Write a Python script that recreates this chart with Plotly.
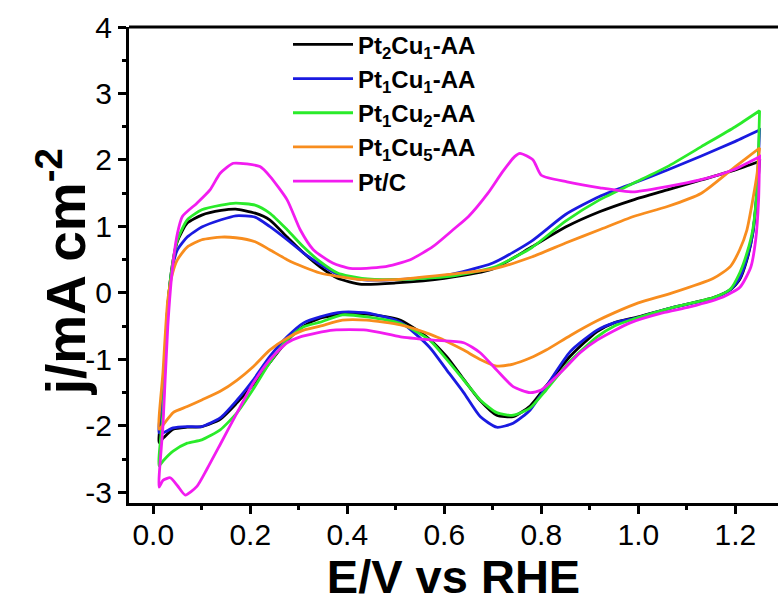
import plotly.graph_objects as go

# ---------------- data ----------------
series_names = ["Pt<sub>2</sub>Cu<sub>1</sub>-AA", "Pt<sub>1</sub>Cu<sub>1</sub>-AA",
                "Pt<sub>1</sub>Cu<sub>2</sub>-AA", "Pt<sub>1</sub>Cu<sub>5</sub>-AA", "Pt/C"]
series_colors = ["#000000", "#1a1ae0", "#2aeb2a", "#f88d1e", "#f21cf0"]

# common potential grid (V vs RHE) for the alloy samples
E_fwd = [0.012, 0.02, 0.03, 0.04, 0.05, 0.07, 0.10, 0.14, 0.17, 0.21, 0.24, 0.276, 0.31,
         0.344, 0.38, 0.43, 0.5, 0.6, 0.7, 0.78, 0.85, 0.92, 0.99, 1.06, 1.13, 1.2, 1.25]
E_rev = [1.25, 1.245, 1.236, 1.224, 1.209, 1.19, 1.155, 1.07, 1.0, 0.95, 0.915, 0.86, 0.81,
         0.777, 0.742, 0.708, 0.674, 0.64, 0.605, 0.57, 0.51, 0.44, 0.39, 0.344, 0.31, 0.276,
         0.24, 0.206, 0.173, 0.138, 0.10, 0.07, 0.041, 0.021, 0.012]

# Pt2Cu1-AA
j_pt2cu1_fwd = [-2.25, -1.6, -0.2, 0.45, 0.78, 1.05, 1.17, 1.24, 1.26, 1.2, 1.10, 0.84, 0.6,
                0.39, 0.22, 0.13, 0.15, 0.22, 0.36, 0.69, 0.99, 1.22, 1.40, 1.55, 1.70, 1.85, 1.98]
j_pt2cu1_rev = [1.98, 1.5, 0.9, 0.5, 0.2, 0.05, -0.07, -0.22, -0.36, -0.45, -0.58, -0.95, -1.4,
                -1.7, -1.86, -1.84, -1.62, -1.3, -0.96, -0.7, -0.41, -0.32, -0.32, -0.38, -0.5,
                -0.72, -1.05, -1.38, -1.65, -1.9, -2.01, -2.02, -2.05, -2.18, -2.25]

# Pt1Cu1-AA
j_pt1cu1_fwd = [-2.1, -1.5, -0.2, 0.4, 0.65, 0.84, 0.99, 1.1, 1.16, 1.14, 1.0, 0.8, 0.6,
                0.43, 0.28, 0.2, 0.2, 0.26, 0.45, 0.78, 1.18, 1.45, 1.65, 1.85, 2.06, 2.28, 2.45]
j_pt1cu1_rev = [2.45, 1.6, 0.9, 0.52, 0.22, 0.05, -0.08, -0.22, -0.37, -0.45, -0.56, -0.88, -1.41,
                -1.76, -1.96, -2.02, -1.86, -1.5, -1.16, -0.82, -0.44, -0.3, -0.29, -0.36, -0.45,
                -0.66, -0.96, -1.31, -1.61, -1.88, -2.01, -2.01, -2.03, -2.1, -2.1]

# Pt1Cu2-AA
j_pt1cu2_fwd = [-2.6, -1.8, -0.2, 0.45, 0.8, 1.1, 1.25, 1.32, 1.35, 1.32, 1.2, 0.95, 0.69,
                0.47, 0.3, 0.22, 0.2, 0.24, 0.38, 0.68, 1.08, 1.4, 1.65, 1.9, 2.2, 2.5, 2.74]
j_pt1cu2_rev = [2.74, 1.6, 0.95, 0.6, 0.3, 0.06, -0.07, -0.22, -0.37, -0.5, -0.66, -1.02, -1.46,
                -1.73, -1.84, -1.8, -1.61, -1.31, -1.0, -0.71, -0.46, -0.36, -0.33, -0.44, -0.51,
                -0.71, -1.05, -1.45, -1.8, -2.06, -2.21, -2.26, -2.38, -2.52, -2.6]

# Pt1Cu5-AA
j_pt1cu5_fwd = [-2.05, -1.2, -0.1, 0.3, 0.5, 0.69, 0.8, 0.84, 0.83, 0.77, 0.65, 0.5, 0.39,
                0.3, 0.25, 0.2, 0.2, 0.27, 0.36, 0.54, 0.75, 0.95, 1.15, 1.3, 1.5, 1.9, 2.18]
j_pt1cu5_rev = [2.18, 1.8, 1.4, 0.95, 0.65, 0.4, 0.22, 0.0, -0.15, -0.3, -0.42, -0.64, -0.86,
                -0.98, -1.07, -1.1, -1.0, -0.86, -0.73, -0.62, -0.48, -0.41, -0.41, -0.5, -0.56,
                -0.68, -0.86, -1.11, -1.31, -1.48, -1.61, -1.71, -1.8, -1.98, -2.05]

# Pt/C (own potential grid)
E_ptc_fwd = [0.012, 0.02, 0.03, 0.04, 0.05, 0.06, 0.09, 0.117, 0.138, 0.165, 0.193, 0.22, 0.241,
             0.276, 0.303, 0.33, 0.37, 0.406, 0.474, 0.53, 0.577, 0.618, 0.65, 0.69, 0.72, 0.745,
             0.756, 0.783, 0.80, 0.853, 0.921, 0.989, 1.059, 1.127, 1.195, 1.25]
j_ptc_fwd = [-2.92, -2.0, -0.5, 0.4, 0.9, 1.15, 1.35, 1.55, 1.8, 1.95, 1.94, 1.9, 1.75,
             1.4, 0.95, 0.65, 0.45, 0.37, 0.39, 0.5, 0.7, 0.95, 1.15, 1.5, 1.82, 2.05,
             2.1, 2.0, 1.77, 1.67, 1.58, 1.52, 1.6, 1.7, 1.85, 2.05]
E_ptc_rev = [1.25, 1.248, 1.242, 1.232, 1.21, 1.175, 1.106, 1.05, 0.983, 0.915, 0.88, 0.845,
             0.80, 0.777, 0.742, 0.708, 0.674, 0.64, 0.577, 0.51, 0.44, 0.371, 0.303, 0.276,
             0.241, 0.206, 0.173, 0.138, 0.11, 0.09, 0.066, 0.05, 0.035, 0.02, 0.012]
j_ptc_rev = [2.05, 1.4, 0.8, 0.39, 0.09, -0.06, -0.21, -0.3, -0.45, -0.71, -0.9, -1.16,
             -1.46, -1.5, -1.41, -1.16, -0.9, -0.75, -0.71, -0.66, -0.56, -0.56, -0.66, -0.75,
             -1.0, -1.36, -1.8, -2.28, -2.66, -2.91, -3.04, -2.9, -2.78, -2.82, -2.92]

x_tickvals = [0.0, 0.2, 0.4, 0.6, 0.8, 1.0, 1.2]
x_ticktext = ["0.0", "0.2", "0.4", "0.6", "0.8", "1.0", "1.2"]
y_tickvals = [4, 3, 2, 1, 0, -1, -2, -3]
y_ticktext = ["4", "3", "2", "1", "0", "-1", "-2", "-3"]
x_title = "E/V vs RHE"
y_title = "j/mA cm<sup>-2</sup>"

curves = [
    (E_fwd + E_rev, j_pt2cu1_fwd + j_pt2cu1_rev),
    (E_fwd + E_rev, j_pt1cu1_fwd + j_pt1cu1_rev),
    (E_fwd + E_rev, j_pt1cu2_fwd + j_pt1cu2_rev),
    (E_fwd + E_rev, j_pt1cu5_fwd + j_pt1cu5_rev),
    (E_ptc_fwd + E_ptc_rev, j_ptc_fwd + j_ptc_rev),
]

# ---------------- figure ----------------
fig = go.Figure()
for name, color, (xs, ys) in zip(series_names, series_colors, curves):
    fig.add_trace(go.Scatter(
        x=xs, y=ys, mode="lines", name=name,
        line=dict(color=color, width=2.8, shape="spline", smoothing=0.6),
    ))

FONT = "Liberation Sans, Arial, sans-serif"

fig.update_layout(
    width=778, height=603,
    margin=dict(l=129, r=0, t=27, b=100),
    paper_bgcolor="white", plot_bgcolor="white",
    font=dict(family=FONT, color="black"),
    showlegend=True,
    legend=dict(
        x=0.245, y=1.01, xanchor="left", yanchor="top",
        bgcolor="rgba(0,0,0,0)",
        font=dict(family=FONT, size=24, color="black", weight="bold"),
        itemwidth=60, tracegroupgap=0,
    ),
    xaxis=dict(
        range=[-0.05, 1.288], showgrid=False, zeroline=False,
        showline=True, linewidth=3, linecolor="black", mirror=False,
        tickmode="array", tickvals=x_tickvals, ticktext=x_ticktext,
        ticks="outside", ticklen=8, tickwidth=2.5, tickcolor="black",
        tickfont=dict(family=FONT, size=30, color="black"),
        ticklabelstandoff=-5,
        minor=dict(ticks="outside", ticklen=4, tickwidth=2.5, tickcolor="black", dtick=0.1, tick0=0),
        title=dict(text=x_title, font=dict(family=FONT, size=47, color="black", weight="bold"),
                   standoff=4),
    ),
    yaxis=dict(
        range=[-3.16, 4.0], showgrid=False, zeroline=False,
        showline=True, linewidth=3, linecolor="black", mirror=False,
        tickmode="array", tickvals=y_tickvals, ticktext=y_ticktext,
        ticks="outside", ticklen=8, tickwidth=2.5, tickcolor="black",
        tickfont=dict(family=FONT, size=30, color="black"),
        minor=dict(ticks="outside", ticklen=4, tickwidth=2.5, tickcolor="black", dtick=0.5, tick0=0),
    ),
)

# y-axis title placed as rotated annotation for exact position
fig.add_annotation(
    text=y_title, textangle=-90, showarrow=False,
    xref="paper", yref="paper", x=-0.103, y=0.485, xanchor="center", yanchor="middle",
    font=dict(family=FONT, size=55, color="black", weight="bold"),
)

# top frame line (the reference frame is open on the right, cropped)
fig.add_shape(type="line", xref="paper", yref="paper", x0=0, x1=1, y0=1, y1=1,
              line=dict(color="black", width=3))

fig.write_html("out.html")
